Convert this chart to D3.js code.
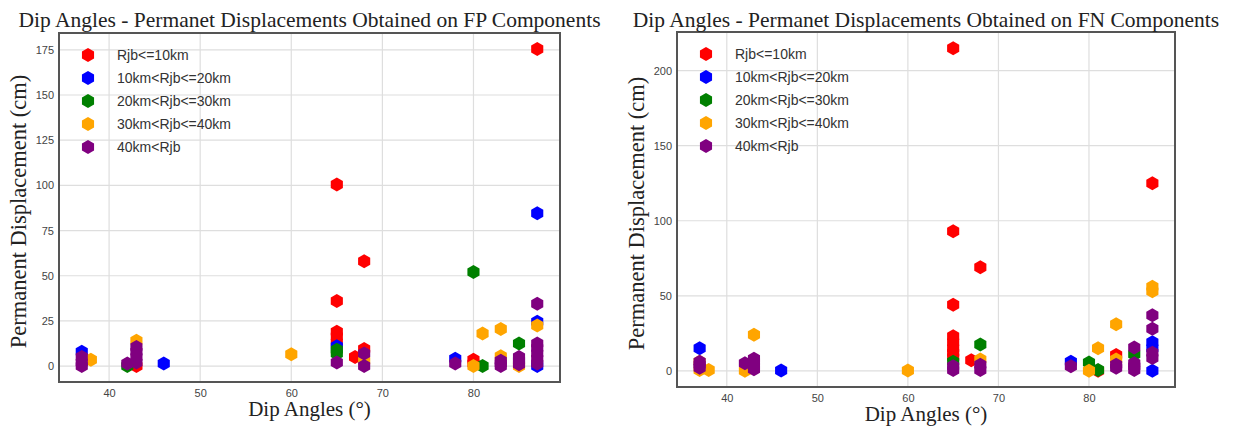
<!DOCTYPE html>
<html>
<head>
<script src="https://d3js.org/d3.v7.min.js"></script>
<style>
  body { margin: 0; background: #fff; }
  .tick text { font-family: 'Liberation Sans', Arial, sans-serif; font-size: 11px; fill: #444; }
</style>
</head>
<body>
<script>
// legend / series labels
var seriesNames = ["Rjb<=10km", "10km<Rjb<=20km", "20km<Rjb<=30km", "30km<Rjb<=40km", "40km<Rjb"];
var seriesColors = ["#ff0000", "#0000ff", "#008000", "#ffa500", "#800080"];

var xTicks = [40, 50, 60, 70, 80];
var fpTicks = [0, 25, 50, 75, 100, 125, 150, 175];
var fnTicks = [0, 50, 100, 150, 200];

// FP components: [dip angle, displacement cm]
var fpR10 = [[43,0],[65,100.5],[65,36],[65,19],[65,16.5],[65,13],[67,5],[68,58],[68,9.5],[80,3.5],[80,1.5],[87,175.5]];
var fpR20 = [[37,8],[46,1.5],[65,11],[78,4],[87,84.5],[87,24.5],[87,0]];
var fpR30 = [[42,0],[65,9],[65,7],[80,52],[81,0],[85,12.5]];
var fpR40 = [[38,3.5],[43,14],[60,6.5],[68,3],[80,0],[81,18],[83,20.5],[83,5.5],[85,0],[87,22.5]];
var fpR50 = [[37,5],[37,2],[37,0],[42,1.5],[43,10.5],[43,8],[43,5],[43,2],[65,2],[68,7],[68,0],[78,1.5],[83,3],[83,1.5],[83,0],[85,5],[85,3],[85,1],[87,34.5],[87,12.5],[87,10],[87,7],[87,4],[87,1.5]];

// FN components
var fnR10 = [[65,215],[65,93],[65,44],[65,23],[65,19],[65,15],[65,12],[65,9],[67,7],[68,69],[81,0],[83,10.5],[87,125]];
var fnR20 = [[37,15],[46,0.3],[78,6],[87,19],[87,15],[87,0]];
var fnR30 = [[65,6],[68,17.5],[80,5.5],[81,0.5],[85,11]];
var fnR40 = [[37,6],[37,0.5],[38,0.5],[42,0],[43,24],[60,0.3],[68,7.5],[80,0],[81,15],[83,31],[83,7.5],[87,56],[87,53]];
var fnR50 = [[37,6],[37,4],[37,2],[42,5],[43,8],[43,6],[43,3],[43,1],[65,3],[65,0.5],[68,4],[68,0.5],[78,3],[83,4],[83,2],[85,15.5],[85,5],[85,3],[85,0.5],[87,37],[87,28],[87,12],[87,8.5]];

var svg = d3.select("body").append("svg")
    .attr("width", 1234)
    .attr("height", 428);

// pointy-top hexagon like matplotlib 'h'
function hexPath(r) {
  var pts = d3.range(6).map(function(k) {
    var a = -Math.PI / 2 + k * Math.PI / 3;
    return [r * Math.cos(a), r * Math.sin(a)];
  });
  return "M" + pts.join("L") + "Z";
}
var hex = hexPath(7);
var serif = "'Liberation Serif', 'Times New Roman', serif";

function drawPanel(p) {
  var x = d3.scaleLinear().domain([34.5, 89.5]).range([p.left, p.right]);
  var y = d3.scaleLinear().domain(p.yDomain).range([p.bottom, p.top]);
  var g = svg.append("g");

  // grid
  g.selectAll(".vg").data(xTicks).enter().append("line")
    .attr("x1", function(d) { return x(d); }).attr("x2", function(d) { return x(d); })
    .attr("y1", p.top).attr("y2", p.bottom)
    .style("stroke", "#dedede").style("stroke-width", 1.2);
  g.selectAll(".hg").data(p.yTicks).enter().append("line")
    .attr("x1", p.left).attr("x2", p.right)
    .attr("y1", function(d) { return y(d); }).attr("y2", function(d) { return y(d); })
    .style("stroke", "#dedede").style("stroke-width", 1.2);

  // axes (labels only)
  var xa = g.append("g").attr("transform", "translate(0," + p.bottom + ")")
    .call(d3.axisBottom(x).tickValues(xTicks).tickSize(0).tickPadding(7));
  xa.select(".domain").remove();
  var ya = g.append("g").attr("transform", "translate(" + p.left + ",0)")
    .call(d3.axisLeft(y).tickValues(p.yTicks).tickSize(0).tickPadding(5));
  ya.select(".domain").remove();

  // points
  p.series.forEach(function(s, i) {
    g.append("g").selectAll("path").data(s).enter().append("path")
      .attr("d", hex)
      .attr("transform", function(d) { return "translate(" + x(d[0]) + "," + y(d[1]) + ")"; })
      .style("fill", seriesColors[i]);
  });

  // frame
  g.append("rect")
    .attr("x", p.left).attr("y", p.top)
    .attr("width", p.right - p.left).attr("height", p.bottom - p.top)
    .style("fill", "none").style("stroke", "#555").style("stroke-width", 2);

  // legend
  seriesNames.forEach(function(name, i) {
    var ly = p.top + 22 + i * 23;
    g.append("path").attr("d", hex)
      .attr("transform", "translate(" + (p.left + 29) + "," + ly + ")")
      .style("fill", seriesColors[i]);
    g.append("text").attr("x", p.left + 58).attr("y", ly + 5)
      .text(name)
      .style("font-family", "'Liberation Sans', Arial, sans-serif")
      .style("font-size", "14px").style("fill", "#333");
  });

  var cx = (p.left + p.right) / 2;
  g.append("text").attr("x", cx).attr("y", 27).attr("text-anchor", "middle")
    .text(p.title)
    .style("font-family", serif)
    .style("font-size", "21.5px").style("fill", "#222");
  g.append("text").attr("x", cx).attr("y", p.bottom + 34).attr("text-anchor", "middle")
    .text("Dip Angles (\u00b0)")
    .style("font-family", serif)
    .style("font-size", "21px").style("fill", "#222");
  g.append("text")
    .attr("transform", "translate(" + (p.left - 33) + "," + ((p.top + p.bottom) / 2 + 4) + ") rotate(-90)")
    .attr("text-anchor", "middle")
    .text("Permanent Displacement (cm)")
    .style("font-family", serif)
    .style("font-size", "22.5px").style("fill", "#222");
}

drawPanel({
  left: 59, right: 560, top: 33, bottom: 382,
  yDomain: [-8.8, 184.3], yTicks: fpTicks,
  series: [fpR10, fpR20, fpR30, fpR40, fpR50],
  title: "Dip Angles - Permanet Displacements Obtained on FP Components"
});
drawPanel({
  left: 677, right: 1175, top: 32, bottom: 387,
  yDomain: [-10.75, 225.75], yTicks: fnTicks,
  series: [fnR10, fnR20, fnR30, fnR40, fnR50],
  title: "Dip Angles - Permanet Displacements Obtained on FN Components"
});
</script>
</body>
</html>
